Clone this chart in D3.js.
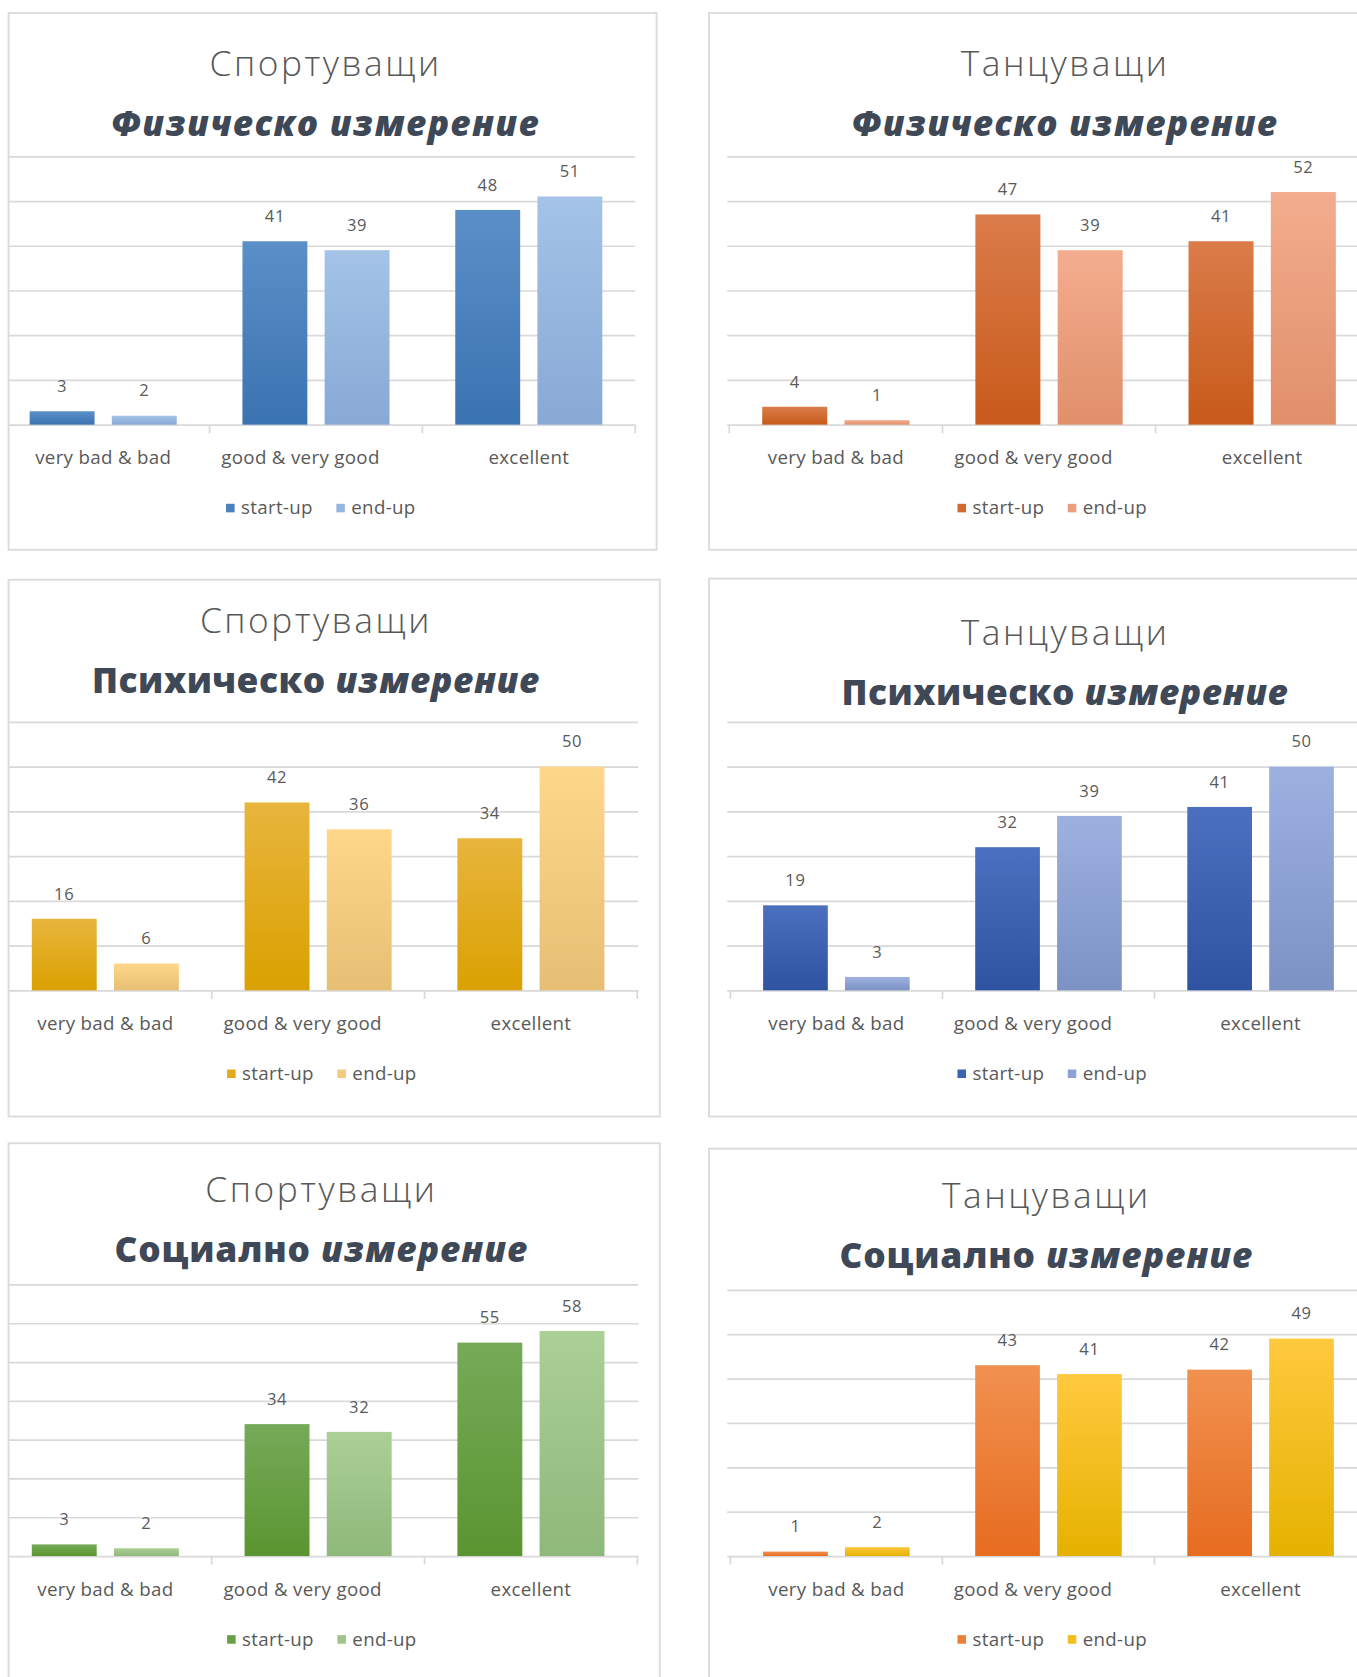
<!DOCTYPE html>
<html>
<head>
<meta charset="utf-8">
<script src="https://cdn.jsdelivr.net/npm/d3@7"></script>
<style>
  body { margin: 0; background: #fff; }
  svg { display: block; }
  .tick text { white-space: pre; }
</style>
</head>
<body>
<script>
// categories and series (the middle label carries trailing spaces in the source)
const categories = ["very bad & bad", "good & very good      ", "excellent"];
const seriesNames = ["start-up", "end-up"];

// values
const sportPhysStart = [3, 41, 48];
const sportPhysEnd = [2, 39, 51];
const dancePhysStart = [4, 47, 41];
const dancePhysEnd = [1, 39, 52];
const sportPsyStart = [16, 42, 34];
const sportPsyEnd = [6, 36, 50];
const dancePsyStart = [19, 32, 41];
const dancePsyEnd = [3, 39, 50];
const sportSocStart = [3, 34, 55];
const sportSocEnd = [2, 32, 58];
const danceSocStart = [1, 43, 42];
const danceSocEnd = [2, 41, 49];

// value axis (hidden labels, gridlines only)
const ticks60 = [0, 10, 20, 30, 40, 50, 60];
const ticks70 = [0, 10, 20, 30, 40, 50, 60, 70];

// titles
const groupSport = "Спортуващи";
const groupDance = "Танцуващи";
const dimPhysical = "Физическо";
const dimPsychic = "Психическо";
const dimSocial = "Социално";
const dimWord = "измерение";

// layout for each panel (in 1269x1568 units, scaled by the viewBox)
const panels = [
  { id: "tl", title: groupSport, dim: dimPhysical, dimItalic: true, start: sportPhysStart, end: sportPhysEnd, ticks: ticks60,
    box: [8, 12, 606, 502], band: [-3, 594], grid: [8, 594], top: 146, base: 397,
    cx: 304.5, titleY: 71, subY: 127, titleW: 217, subW: 401, legendX: 300,
    colors: [["#5b8fc8", "#3a73b1"], ["#a4c3e7", "#88a9d5"]] },
  { id: "tr", title: groupDance, dim: dimPhysical, dimItalic: true, start: dancePhysStart, end: dancePhysEnd, ticks: ticks60,
    box: [663, 12, 640, 502], band: [682, 1280], grid: [680, 1280], top: 146, base: 397,
    cx: 996, titleY: 71, subY: 127, titleW: 195, subW: 399, legendX: 984,
    colors: [["#da7c4a", "#c85a1a"], ["#f3ad8e", "#e08f6a"]] },
  { id: "ml", title: groupSport, dim: dimPsychic, dimItalic: false, start: sportPsyStart, end: sportPsyEnd, ticks: ticks60,
    box: [8, 542, 609, 502], band: [-1, 596], grid: [8, 597], top: 675, base: 926,
    cx: 295.5, titleY: 592, subY: 648, titleW: 217, subW: 419, legendX: 301,
    colors: [["#e8b53d", "#daa100"], ["#ffd78b", "#e7bf74"]] },
  { id: "mr", title: groupDance, dim: dimPsychic, dimItalic: false, start: dancePsyStart, end: dancePsyEnd, ticks: ticks60,
    box: [663, 541, 640, 503], band: [683, 1278], grid: [680, 1280], top: 675, base: 926,
    cx: 996, titleY: 603, subY: 659, titleW: 195, subW: 418, legendX: 984,
    colors: [["#4b70bf", "#2d53a1"], ["#9db1e1", "#7c92c5"]] },
  { id: "bl", title: groupSport, dim: dimSocial, dimItalic: false, start: sportSocStart, end: sportSocEnd, ticks: ticks70,
    box: [8, 1069, 609, 600], band: [-1, 596], grid: [8, 597], top: 1201, base: 1455,
    cx: 300.5, titleY: 1124, subY: 1180, titleW: 217, subW: 387, legendX: 301,
    colors: [["#76aa58", "#5a9531"], ["#abd096", "#8fb87b"]] },
  { id: "br", title: groupDance, dim: dimSocial, dimItalic: false, start: danceSocStart, end: danceSocEnd, ticks: ticks60,
    box: [663, 1074, 640, 600], band: [683, 1278], grid: [680, 1280], top: 1206, base: 1455,
    cx: 978.5, titleY: 1130, subY: 1186, titleW: 195, subW: 387, legendX: 984,
    colors: [["#f1914f", "#e66c20"], ["#ffc93e", "#e5b200"]] }
];

const textGrey = "#595959";
const titleDark = "#3f4856";
const gridColor = "#d9d9d9";

const svg = d3.select("body").append("svg")
  .attr("width", 1357)
  .attr("height", 1677)
  .attr("viewBox", "0 0 1269 1568");

const defs = svg.append("defs");

// stretch a text element to a measured width by letter spacing
function fitWidth(sel, target) {
  const n = sel.text().length;
  const w = sel.node().getComputedTextLength();
  sel.attr("letter-spacing", ((target - w) / n).toFixed(2));
}

panels.forEach(p => {
  const g = svg.append("g").attr("class", "panel-" + p.id);

  // gradients for the two series
  p.colors.forEach((c, i) => {
    const grad = defs.append("linearGradient")
      .attr("id", `grad-${p.id}-${i}`)
      .attr("x1", 0).attr("y1", 0).attr("x2", 0).attr("y2", 1);
    grad.append("stop").attr("offset", "0%").attr("stop-color", c[0]);
    grad.append("stop").attr("offset", "100%").attr("stop-color", c[1]);
  });

  // panel frame
  g.append("rect")
    .attr("x", p.box[0]).attr("y", p.box[1])
    .attr("width", p.box[2]).attr("height", p.box[3])
    .attr("fill", "#fff")
    .attr("stroke", "#dcdcdc")
    .attr("stroke-width", 1.8);

  // titles
  const t1 = g.append("text")
    .attr("x", p.cx).attr("y", p.titleY)
    .attr("text-anchor", "middle")
    .style("font-family", "'Open Sans', sans-serif")
    .style("font-weight", 300)
    .style("font-size", "33px")
    .attr("fill", textGrey)
    .text(p.title);
  fitWidth(t1, p.titleW);

  const t2 = g.append("text")
    .attr("x", p.cx).attr("y", p.subY)
    .attr("text-anchor", "middle")
    .style("font-family", "'Open Sans', sans-serif")
    .style("font-weight", 800)
    .style("font-size", "33px")
    .attr("fill", titleDark);
  t2.append("tspan")
    .style("font-style", p.dimItalic ? "italic" : "normal")
    .text(p.dim + " ");
  t2.append("tspan")
    .style("font-style", "italic")
    .text(dimWord);
  fitWidth(t2, p.subW);

  // scales
  const y = d3.scaleLinear().domain([0, d3.max(p.ticks)]).range([p.base, p.top]);
  const x0 = d3.scaleBand().domain(categories).range(p.band).paddingInner(0).paddingOuter(0);
  const x1 = d3.scaleBand().domain(seriesNames).range([0, x0.bandwidth()])
    .paddingInner(0.21).paddingOuter(0.4);

  // gridlines
  const gridG = g.append("g")
    .attr("transform", `translate(${p.grid[0]},0)`)
    .call(d3.axisLeft(y).tickValues(p.ticks).tickSize(-(p.grid[1] - p.grid[0])).tickFormat(""));
  gridG.select(".domain").remove();
  gridG.selectAll(".tick line").attr("stroke", gridColor).attr("stroke-width", 1.6);

  // category axis: separators and labels
  const edges = categories.map(c => x0(c)).concat([x0(categories[categories.length - 1]) + x0.bandwidth()]);
  g.selectAll(".sep").data(edges.filter(e => e >= p.grid[0] - 1)).enter().append("line")
    .attr("x1", d => d).attr("x2", d => d)
    .attr("y1", p.base).attr("y2", p.base + 8)
    .attr("stroke", gridColor).attr("stroke-width", 1.6);

  const xAxis = g.append("g")
    .attr("transform", `translate(0,${p.base})`)
    .call(d3.axisBottom(x0).tickSize(0).tickPadding(0));
  xAxis.select(".domain").remove();
  xAxis.selectAll(".tick text")
    .attr("y", 37)
    .attr("dy", 0)
    .attr("fill", textGrey)
    .attr("letter-spacing", 0.3)
    .style("font-family", "'Open Sans', sans-serif")
    .style("font-size", "17.5px");

  // bars
  const rows = categories.map((c, i) => ({ cat: c, vals: [p.start[i], p.end[i]] }));
  const cg = g.selectAll(".cat").data(rows).enter().append("g")
    .attr("transform", d => `translate(${x0(d.cat)},0)`);

  cg.selectAll("rect").data(d => d.vals.map((v, i) => ({ s: seriesNames[i], i, v })))
    .enter().append("rect")
    .attr("x", d => x1(d.s))
    .attr("y", d => y(d.v))
    .attr("width", x1.bandwidth())
    .attr("height", d => p.base - y(d.v))
    .attr("fill", d => `url(#grad-${p.id}-${d.i})`);

  cg.selectAll("text.val").data(d => d.vals.map((v, i) => ({ s: seriesNames[i], v })))
    .enter().append("text")
    .attr("class", "val")
    .attr("x", d => x1(d.s) + x1.bandwidth() / 2)
    .attr("y", d => y(d.v) - 18)
    .attr("text-anchor", "middle")
    .attr("fill", textGrey)
    .attr("letter-spacing", 0.6)
    .style("font-family", "'Open Sans', sans-serif")
    .style("font-size", "15.5px")
    .text(d => d.v);

  // legend
  const lg = g.append("g").attr("transform", `translate(0,${p.base + 84})`);
  let cursor = 0;
  const items = [];
  seriesNames.forEach((s, i) => {
    const it = lg.append("g");
    it.append("rect")
      .attr("x", 0).attr("y", -10)
      .attr("width", 8).attr("height", 8)
      .attr("fill", d3.interpolateRgb(p.colors[i][0], p.colors[i][1])(0.5));
    const tx = it.append("text")
      .attr("x", 14).attr("y", 0)
      .attr("fill", textGrey)
      .attr("letter-spacing", 0.3)
      .style("font-family", "'Open Sans', sans-serif")
      .style("font-size", "17.5px")
      .text(s);
    const w = 14 + tx.node().getComputedTextLength();
    items.push({ it, x: cursor });
    cursor += w + (i < seriesNames.length - 1 ? 22 : 0);
  });
  const x0Legend = p.legendX - cursor / 2;
  items.forEach(d => d.it.attr("transform", `translate(${x0Legend + d.x},0)`));
});
</script>
</body>
</html>
